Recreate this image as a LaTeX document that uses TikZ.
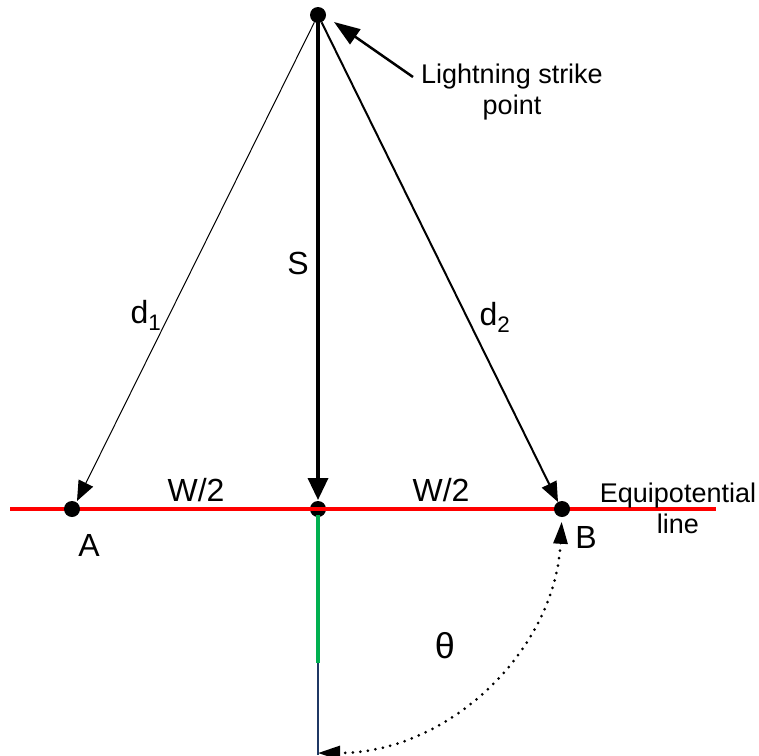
\documentclass[tikz,border=0pt]{standalone}
\usepackage{fontspec}
\setmainfont{Liberation Sans}
\usetikzlibrary{arrows.meta}
\definecolor{eqred}{RGB}{255,0,0}
\definecolor{gndgreen}{RGB}{0,176,80}
\definecolor{gndblue}{RGB}{31,56,100}
\begin{document}
\begin{tikzpicture}[x=1pt,y=1pt,
  dot/.style={circle,fill=black,inner sep=0pt,minimum size=16pt},
  lbl/.style={inner sep=0pt,font=\fontsize{32}{36}\selectfont},
  note/.style={inner sep=0pt,align=center,font=\fontsize{27}{31}\selectfont},
  tip/.style={-{Triangle[length=20pt,width=16pt]}},
  arcstyle/.style={line width=3pt,line cap=round,dash pattern=on 0pt off 7.6pt,
    {Triangle[length=22pt,width=14pt]}-{Triangle[length=22pt,width=14pt]}}]
\useasboundingbox (0,0) rectangle (759,-755);
% points
\node[dot] (P) at (318,-15) {};
\node[dot] (C) at (318,-509) {};
\coordinate (Ctop) at (318,-500);
\coordinate (Atip) at (77,-501);
\coordinate (Btip) at (558,-502);
\coordinate (Lend) at (10,-509);
\coordinate (Rend) at (716,-509);
\coordinate (Gtop) at (318,-515);
\coordinate (Gbot) at (318,-663);
\coordinate (Bbot) at (318,-755);
% ground conductor
\draw[gndgreen,line width=3.5pt] (Gtop) -- (Gbot);
\draw[gndblue,line width=2pt] (Gbot) -- (Bbot);
% equipotential line
\draw[eqred,line width=4pt] (Lend) -- (Rend);
\node[dot] (A) at (72,-509) {};
\node[dot] (B) at (562,-509) {};
% distances
\draw[line width=1pt,tip] (P) -- (Atip);
\draw[line width=2pt,tip] (P) -- (Btip);
\draw[line width=3.5pt,-{Triangle[length=22pt,width=20pt]}] (P.center) -- (Ctop);
% arc theta
\draw[arcstyle] (C.center) ++(-3:244pt) arc[start angle=-3,end angle=-90,radius=244pt];
% annotation
\node[note] (LS) at (512,-92) {Lightning strike\\point};
\coordinate (LStail) at (413,-77);
\draw[line width=2.5pt,-{Triangle[length=26pt,width=18pt]}] (LStail) -- (334,-22);
% labels
\node[lbl] (S) at (298,-263) {S};
\node[lbl] (d1) at (146,-315) {d\textsubscript{1}};
\node[lbl] (d2) at (495,-317) {d\textsubscript{2}};
\node[lbl] (W1) at (196,-490) {W/2};
\node[lbl] (W2) at (441,-490) {W/2};
\node[lbl] (Al) at (89,-545) {A};
\node[lbl] (Bl) at (586,-537) {B};
\node[note] (EQ) at (678,-508) {Equipotential\\line};
\node[lbl,font=\fontsize{36}{40}\selectfont] (th) at (445,-646) {θ};
\end{tikzpicture}
\end{document}
